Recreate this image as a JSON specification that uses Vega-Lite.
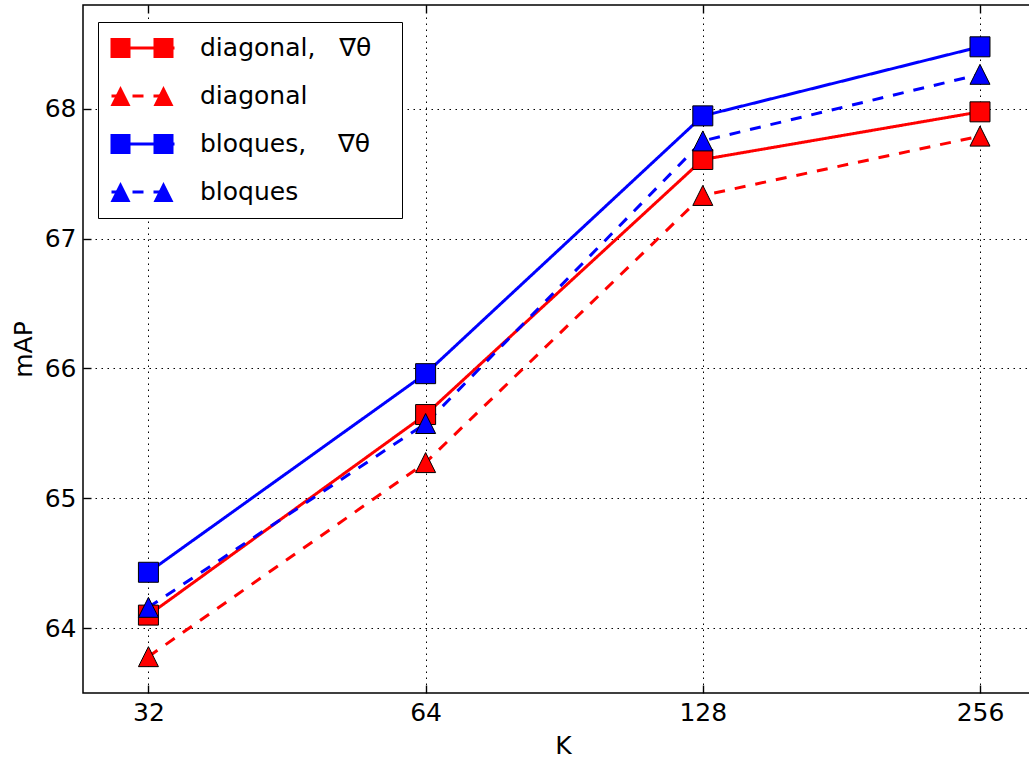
{
  "$schema": "https://vega.github.io/schema/vega-lite/v6.json",
  "width": 947,
  "height": 688,
  "autosize": {"type": "none"},
  "padding": {"left": 83, "top": 5, "right": 0, "bottom": 67},
  "background": "white",
  "config": {
    "font": "DejaVu Sans",
    "view": {"stroke": "black", "strokeWidth": 1.5},
    "axis": {
      "labelFont": "DejaVu Sans", "labelFontSize": 25, "labelColor": "black",
      "titleFont": "DejaVu Sans", "titleFontSize": 25, "titleFontWeight": "normal", "titleColor": "black",
      "domain": false, "tickColor": "black", "tickWidth": 1.4,
      "gridColor": "black", "gridDash": [1.5, 4.5], "gridWidth": 1, "gridOpacity": 1
    },
    "legend": {"labelFont": "DejaVu Sans", "labelFontSize": 25, "labelColor": "black"}
  },
  "data": {
    "values": [
      {"series": "diagonal, ∇θ", "K": 32, "mAP": 64.10},
      {"series": "diagonal, ∇θ", "K": 64, "mAP": 65.645},
      {"series": "diagonal, ∇θ", "K": 128, "mAP": 67.61},
      {"series": "diagonal, ∇θ", "K": 256, "mAP": 67.977},
      {"series": "diagonal", "K": 32, "mAP": 63.78},
      {"series": "diagonal", "K": 64, "mAP": 65.275},
      {"series": "diagonal", "K": 128, "mAP": 67.333},
      {"series": "diagonal", "K": 256, "mAP": 67.79},
      {"series": "bloques, ∇θ", "K": 32, "mAP": 64.43},
      {"series": "bloques, ∇θ", "K": 64, "mAP": 65.96},
      {"series": "bloques, ∇θ", "K": 128, "mAP": 67.946},
      {"series": "bloques, ∇θ", "K": 256, "mAP": 68.478},
      {"series": "bloques", "K": 32, "mAP": 64.16},
      {"series": "bloques", "K": 64, "mAP": 65.576},
      {"series": "bloques", "K": 128, "mAP": 67.753},
      {"series": "bloques", "K": 256, "mAP": 68.266}
    ]
  },
  "layer": [
    {
      "mark": {"type": "line", "strokeWidth": 3},
      "encoding": {
        "x": {
          "field": "K", "type": "quantitative",
          "scale": {"type": "log", "base": 2, "domain": [27.17, 290.1], "nice": false},
          "axis": {"values": [32, 64, 128, 256], "format": "d", "title": "K", "tickSize": -8, "labelPadding": 15, "titleX": 480, "titleY": 60, "titleBaseline": "alphabetic", "titleAlign": "center", "grid": true}
        },
        "y": {
          "field": "mAP", "type": "quantitative",
          "scale": {"domain": [63.5, 68.8], "nice": false, "zero": false},
          "axis": {"values": [64, 65, 66, 67, 68], "format": "d", "title": "mAP", "tickSize": -8, "labelPadding": 15, "grid": true, "titlePadding": 8}
        },
        "stroke": {
          "field": "series", "type": "nominal",
          "scale": {"domain": ["diagonal, ∇θ", "diagonal", "bloques, ∇θ", "bloques"], "range": ["#ff0000", "#ff0000", "#0000ff", "#0000ff"]},
          "legend": {
            "title": null, "orient": "none", "legendX": 15, "legendY": 17, "padding": 12,
            "symbolType": "stroke", "symbolSize": 3969, "symbolStrokeWidth": 3,
            "clipHeight": 28, "rowPadding": 20, "labelOffset": 24, "labelLimit": 400,
            "strokeColor": "black", "fillColor": "white", "zindex": 1,
            "labelExpr": "datum.label == 'diagonal, ∇θ' ? 'diagonal,\u00a0\u00a0\u00a0∇θ\u2800' : datum.label == 'bloques, ∇θ' ? 'bloques,\u00a0\u00a0\u00a0\u00a0∇θ\u2800' : datum.label"
          }
        },
        "strokeDash": {
          "field": "series", "type": "nominal",
          "scale": {"domain": ["diagonal, ∇θ", "diagonal", "bloques, ∇θ", "bloques"], "range": [[1, 0], [11, 10], [1, 0], [11, 10]]},
          "legend": {
            "title": null, "orient": "none", "legendX": 15, "legendY": 17, "padding": 12,
            "symbolType": "stroke", "symbolSize": 3969, "symbolStrokeWidth": 3,
            "clipHeight": 28, "rowPadding": 20, "labelOffset": 24, "labelLimit": 400,
            "strokeColor": "black", "fillColor": "white", "zindex": 1,
            "labelExpr": "datum.label == 'diagonal, ∇θ' ? 'diagonal,\u00a0\u00a0\u00a0∇θ\u2800' : datum.label == 'bloques, ∇θ' ? 'bloques,\u00a0\u00a0\u00a0\u00a0∇θ\u2800' : datum.label"
          }
        }
      }
    },
    {
      "mark": {"type": "point", "filled": true, "stroke": "black", "strokeWidth": 1, "opacity": 1, "size": 400},
      "encoding": {
        "x": {
          "field": "K", "type": "quantitative",
          "axis": {"orient": "top", "labels": false, "grid": false, "title": null, "values": [32, 64, 128, 256], "tickSize": -8}
        },
        "y": {"field": "mAP", "type": "quantitative"},
        "fill": {
          "field": "series", "type": "nominal",
          "scale": {"domain": ["diagonal, ∇θ", "diagonal", "bloques, ∇θ", "bloques"], "range": ["#ff0000", "#ff0000", "#0000ff", "#0000ff"]},
          "legend": null
        },
        "shape": {
          "field": "series", "type": "nominal",
          "scale": {"domain": ["diagonal, ∇θ", "diagonal", "bloques, ∇θ", "bloques"], "range": ["square", "M0,-1L1,1L-1,1Z", "square", "M0,-1L1,1L-1,1Z"]},
          "legend": null
        }
      }
    },
    {
      "mark": {"type": "point", "filled": true, "stroke": "black", "strokeWidth": 1, "opacity": 0, "size": 400},
      "encoding": {
        "x": {"field": "K", "type": "quantitative", "axis": null},
        "y": {"field": "mAP", "type": "quantitative"},
        "fill": {
          "field": "series", "type": "nominal",
          "scale": {"domain": ["diagonal, ∇θ", "diagonal", "bloques, ∇θ", "bloques"], "range": ["#ff0000", "#ff0000", "#0000ff", "#0000ff"]},
          "legend": {
            "title": null, "orient": "none", "legendX": 15, "legendY": 17, "padding": 12,
            "symbolSize": 3969, "symbolStrokeWidth": 1, "symbolStrokeColor": "black", "symbolOpacity": 1,
            "clipHeight": 28, "rowPadding": 20, "labelExpr": "''", "zindex": 2
          }
        },
        "shape": {
          "field": "series", "type": "nominal",
          "scale": {"domain": ["diagonal, ∇θ", "diagonal", "bloques, ∇θ", "bloques"], "range": [
            "M-1,-0.3175H-0.365V0.3175H-1Z M0.365,-0.3175H1V0.3175H0.365Z",
            "M-0.6825,-0.3175L-0.365,0.3175L-1,0.3175Z M0.6825,-0.3175L1,0.3175L0.365,0.3175Z",
            "M-1,-0.3175H-0.365V0.3175H-1Z M0.365,-0.3175H1V0.3175H0.365Z",
            "M-0.6825,-0.3175L-0.365,0.3175L-1,0.3175Z M0.6825,-0.3175L1,0.3175L0.365,0.3175Z"
          ]},
          "legend": {
            "title": null, "orient": "none", "legendX": 15, "legendY": 17, "padding": 12,
            "symbolSize": 3969, "symbolStrokeWidth": 1, "symbolStrokeColor": "black", "symbolOpacity": 1,
            "clipHeight": 28, "rowPadding": 20, "labelExpr": "''", "zindex": 2
          }
        }
      }
    }
  ],
  "resolve": {
    "axis": {"x": "independent"},
    "scale": {"fill": "independent", "shape": "independent"}
  }
}
